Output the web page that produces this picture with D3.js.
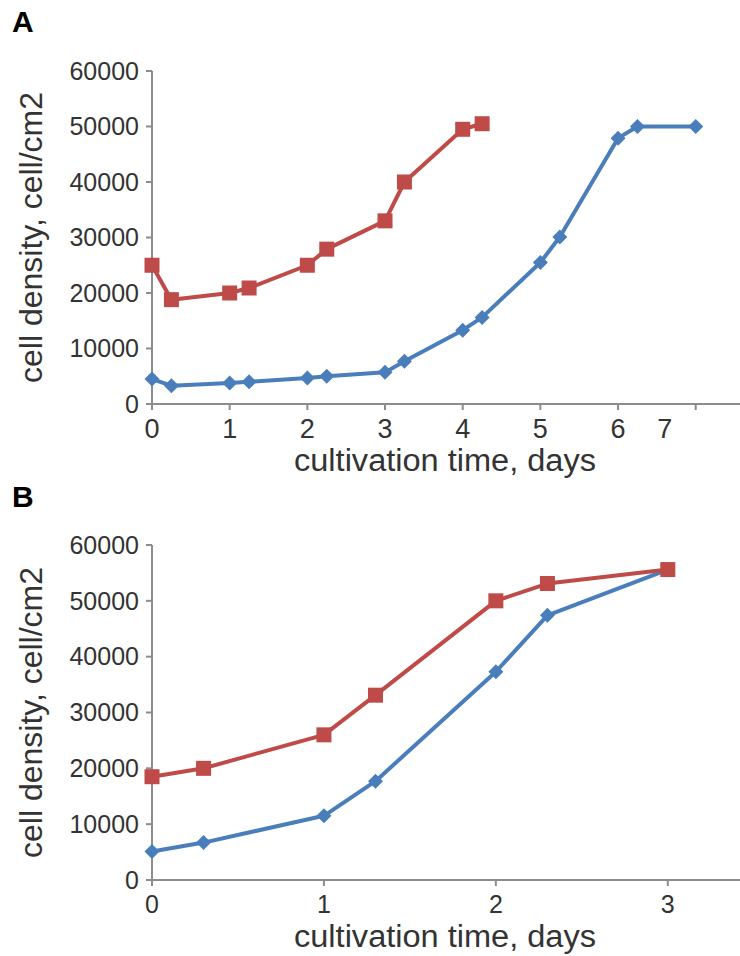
<!DOCTYPE html>
<html>
<head>
<meta charset="utf-8">
<script src="https://cdn.jsdelivr.net/npm/d3@7"></script>
<style>
  html, body { margin: 0; padding: 0; background: #fff; }
  svg { display: block; }
  text { font-family: "Liberation Sans", Arial, sans-serif; fill: #333; }
</style>
</head>
<body>
<svg id="chart" width="740" height="956"></svg>
<script>
// ---------- data ----------
// Panel A
const aBlueX = [0, 0.25, 1, 1.25, 2, 2.25, 3, 3.25, 4, 4.25, 5, 5.25, 6, 6.25, 7];
const aBlueY = [4500, 3300, 3800, 4000, 4700, 5000, 5700, 7700, 13300, 15600, 25500, 30100, 47900, 50000, 50000];
const aRedX = [0, 0.25, 1, 1.25, 2, 2.25, 3, 3.25, 4, 4.25];
const aRedY = [25000, 18800, 20000, 20900, 25000, 27900, 33000, 40000, 49500, 50500];
const aXTicks = [0, 1, 2, 3, 4, 5, 6, 7];
const aXTickLabels = ["0", "1", "2", "3", "4", "5", "6", "7"];
const aXLabelAt = [0, 1, 2, 3, 4, 5, 6, 6.6];
// Panel B
const bBlueX = [0, 0.3, 1, 1.3, 2, 2.3, 3];
const bBlueY = [5100, 6700, 11500, 17700, 37300, 47400, 55600];
const bRedX = [0, 0.3, 1, 1.3, 2, 2.3, 3];
const bRedY = [18500, 20000, 26000, 33100, 50000, 53100, 55600];
const bXTicks = [0, 1, 2, 3];
const bXTickLabels = ["0", "1", "2", "3"];
const bXLabelAt = [0, 1, 2, 3];
const yTicks = [0, 10000, 20000, 30000, 40000, 50000, 60000];
const yTickLabels = ["0", "10000", "20000", "30000", "40000", "50000", "60000"];
const xTitle = "cultivation time, days";
const yTitle = "cell density, cell/cm2";

// ---------- styles ----------
const BLUE = "#4a7ebb", RED = "#be4b48", AXIS = "#8c8c8c";
const svg = d3.select("#chart");

function panel(cfg) {
  const g = svg.append("g");
  const x = d3.scaleLinear().domain(cfg.xDomain).range([152, 740]);
  const y = d3.scaleLinear().domain([0, 60000]).range([cfg.y0, cfg.y1]);

  // panel letter
  g.append("text").attr("x", 12).attr("y", cfg.letterY)
    .attr("font-size", 30).attr("font-weight", "bold").style("fill", "#000")
    .text(cfg.letter);

  // y axis
  g.append("line").attr("x1", x(0)).attr("x2", x(0)).attr("y1", y(60000)).attr("y2", y(0))
    .attr("stroke", AXIS).attr("stroke-width", 2);
  g.selectAll(".yt").data(yTicks).join("line")
    .attr("x1", x(0) - 6).attr("x2", x(0)).attr("y1", d => y(d)).attr("y2", d => y(d))
    .attr("stroke", AXIS).attr("stroke-width", 2);
  g.selectAll(".yl").data(yTicks).join("text")
    .attr("x", x(0) - 13).attr("y", d => y(d)).attr("dy", "0.35em")
    .attr("text-anchor", "end").attr("font-size", 25)
    .text((d, i) => yTickLabels[i]);

  // x axis
  g.append("line").attr("x1", x(0)).attr("x2", 740).attr("y1", y(0)).attr("y2", y(0))
    .attr("stroke", AXIS).attr("stroke-width", 2);
  g.selectAll(".xt").data(cfg.xTicks).join("line")
    .attr("x1", d => x(d)).attr("x2", d => x(d)).attr("y1", y(0)).attr("y2", y(0) + 6)
    .attr("stroke", AXIS).attr("stroke-width", 2);
  g.selectAll(".xl").data(cfg.xLabelAt).join("text")
    .attr("x", d => x(d)).attr("y", cfg.xLabelY)
    .attr("text-anchor", "middle").attr("font-size", cfg.xTickFont)
    .text((d, i) => cfg.xTickLabels[i]);

  // titles
  g.append("text").attr("x", 445).attr("y", cfg.xTitleY)
    .attr("text-anchor", "middle").attr("font-size", 31)
    .attr("textLength", 302).attr("lengthAdjust", "spacingAndGlyphs")
    .text(xTitle);
  const cy = (y(0) + y(60000)) / 2;
  g.append("text").attr("transform", `translate(42,${cy}) rotate(-90)`)
    .attr("text-anchor", "middle").attr("font-size", 31)
    .attr("textLength", 291).attr("lengthAdjust", "spacingAndGlyphs")
    .text(yTitle);

  const line = d3.line().x(d => x(d[0])).y(d => y(d[1]));
  const blue = cfg.blueX.map((v, i) => [v, cfg.blueY[i]]);
  const red = cfg.redX.map((v, i) => [v, cfg.redY[i]]);

  g.append("path").datum(blue).attr("d", line).attr("fill", "none")
    .attr("stroke", BLUE).attr("stroke-width", 4).attr("stroke-linejoin", "round");
  g.selectAll(".bm").data(blue).join("path")
    .attr("transform", d => `translate(${x(d[0])},${y(d[1])})`)
    .attr("d", "M0,-7.5L7.5,0L0,7.5L-7.5,0Z").attr("fill", BLUE);

  g.append("path").datum(red).attr("d", line).attr("fill", "none")
    .attr("stroke", RED).attr("stroke-width", 4).attr("stroke-linejoin", "round");
  g.selectAll(".rm").data(red).join("rect")
    .attr("x", d => x(d[0]) - 7.5).attr("y", d => y(d[1]) - 7.5)
    .attr("width", 15).attr("height", 15).attr("fill", RED);
}

panel({
  letter: "A", letterY: 32, y0: 404, y1: 71, xDomain: [0, 7.57],
  xTicks: aXTicks, xTickLabels: aXTickLabels, xLabelAt: aXLabelAt,
  xLabelY: 438, xTickFont: 27, xTitleY: 471,
  blueX: aBlueX, blueY: aBlueY, redX: aRedX, redY: aRedY
});
panel({
  letter: "B", letterY: 507, y0: 880, y1: 545, xDomain: [0, 3.42],
  xTicks: bXTicks, xTickLabels: bXTickLabels, xLabelAt: bXLabelAt,
  xLabelY: 913, xTickFont: 25, xTitleY: 947,
  blueX: bBlueX, blueY: bBlueY, redX: bRedX, redY: bRedY
});
</script>
</body>
</html>
